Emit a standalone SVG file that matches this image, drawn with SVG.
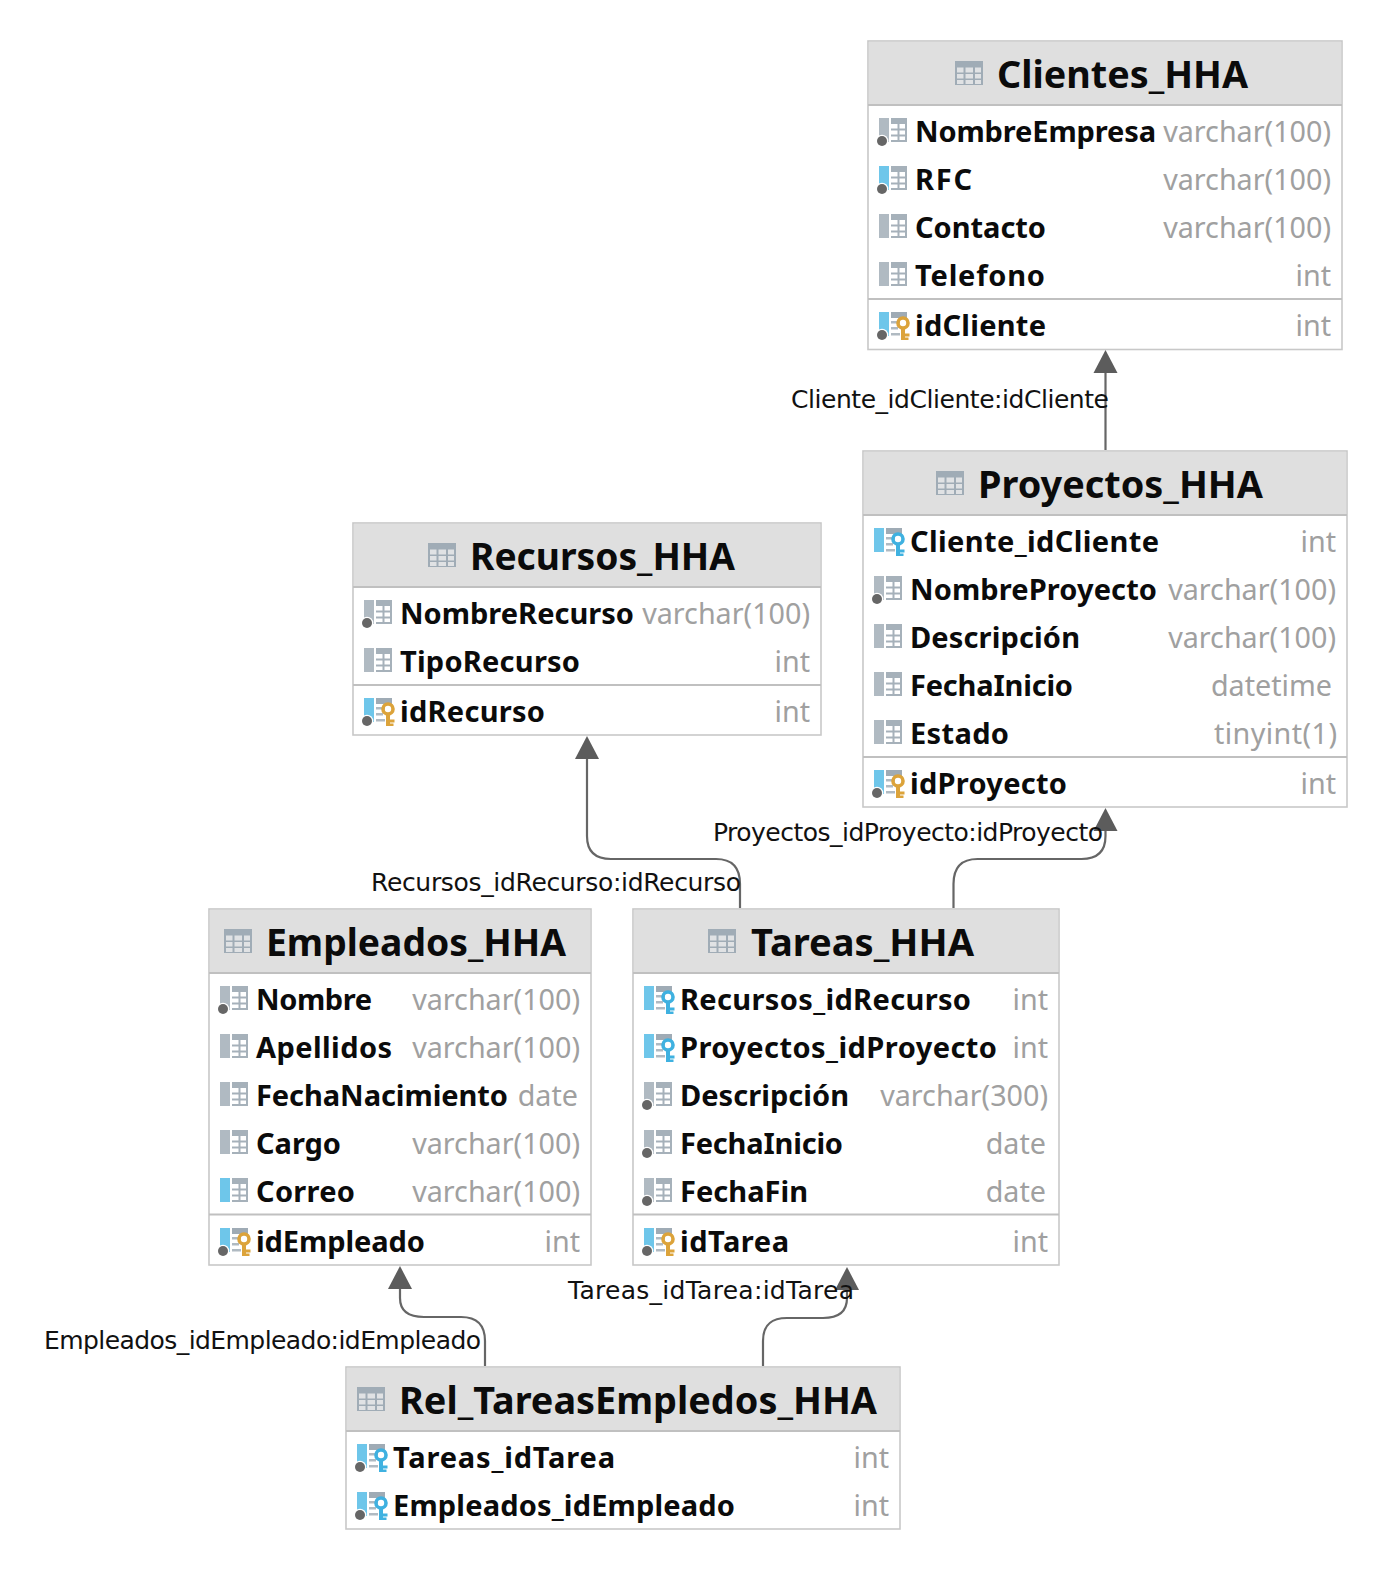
<svg xmlns="http://www.w3.org/2000/svg" width="1388" height="1570" viewBox="0 0 1388 1570">
<style>
.box{fill:#fff;stroke:#c8c8c8;stroke-width:1.6}
.hd{fill:#dfdfdf}
.sep{stroke:#c0c0c0;stroke-width:2.2;fill:none}
.t{font-family:"Noto Sans","Open Sans",sans-serif;font-weight:700;font-size:37px;fill:#0b0b0b}
.f{font-family:"Noto Sans","Open Sans",sans-serif;font-weight:700;font-size:29px;fill:#0b0b0b}
.y{font-family:"Noto Sans","Open Sans",sans-serif;font-weight:400;font-size:28.7px;fill:#a0a0a0;text-anchor:end}
.c{fill:none;stroke:#666;stroke-width:2.2}
.a{fill:#5c5c5c}
.l{font-family:"DejaVu Sans",sans-serif;font-size:25px;fill:#111}
</style>
<defs>
<g id="tbl"><rect x="0" y="0" width="28" height="24" fill="#a0acb6"/><path d="M2 6.500h6.500v5H2zM10.500 6.500h7.500v5h-7.500zM20 6.500h6v5h-6zM2 13h6.500v4.500H2zM10.500 13h7.500v4.500h-7.500zM20 13h6v4.500h-6zM2 19h6.500v4H2zM10.500 19h7.500v4h-7.500zM20 19h6v4h-6z" fill="#e0e2e4"/></g>
<g id="grid"><rect x="12" y="0" width="16" height="24" fill="#a6b1ba"/><path d="M12 6h6.500v4.500h-6.500zM20.500 6h5.500v4.500h-5.500zM12 12.500h6.500v4h-6.500zM20.500 12.500h5.500v4h-5.500zM12 18.500h6.500v3.500h-6.500zM20.500 18.500h5.500v3.500h-5.500z" fill="#fff"/></g>
<g id="lines"><path d="M12 0h16v6h-16z" fill="#9fabb5"/><path d="M12 9h9v2.500h-9zM12 15h7v2.500h-7zM12 21h9v2.500h-9z" fill="#b0bac2"/></g>
<g id="dot"><circle cx="3" cy="23" r="6.300" fill="#fff"/><circle cx="3" cy="23" r="5" fill="#666"/></g>
<g id="gbar"><rect width="10" height="24" fill="#b0bac2"/></g>
<g id="bbar"><rect width="10" height="24" fill="#6ec6ea"/></g>
<g id="key"><circle cx="24" cy="11" r="5" fill="none" stroke="currentColor" stroke-width="3.600"/><path d="M22 16h4v12h-4zM26 21.500h4.500v3h-4.500zM26 25.500h3.500v2.500h-3.500z" fill="currentColor"/></g>
<g id="i-plain"><use href="#gbar"/><use href="#grid"/></g>
<g id="i-nn"><use href="#gbar"/><use href="#grid"/><use href="#dot"/></g>
<g id="i-uq"><use href="#bbar"/><use href="#grid"/><use href="#dot"/></g>
<g id="i-u"><use href="#bbar"/><use href="#grid"/></g>
<g id="i-pk" color="#dca33a"><use href="#bbar"/><use href="#lines"/><use href="#dot"/><use href="#key"/></g>
<g id="i-fk" color="#3fb1e0"><use href="#bbar"/><use href="#lines"/><use href="#key"/></g>
<g id="i-fkd" color="#3fb1e0"><use href="#bbar"/><use href="#lines"/><use href="#dot"/><use href="#key"/></g>
</defs>
<rect width="1388" height="1570" fill="#fff"/>

<g id="Clientes_HHA">
<rect class="box" x="868" y="41" width="474" height="308.500"/><rect class="hd" x="869" y="42" width="472" height="62"/><path class="sep" d="M868 105H1342M868 299H1342"/>
<use href="#tbl" x="955" y="61"/><text class="t" x="997" y="88" textLength="251" lengthAdjust="spacingAndGlyphs">Clientes_HHA</text>
<use href="#i-nn" x="879" y="118"/><text class="f" x="915" y="142" textLength="241">NombreEmpresa</text><text class="y" x="1331" y="142">varchar(100)</text>
<use href="#i-uq" x="879" y="166"/><text class="f" x="915" y="190" textLength="57">RFC</text><text class="y" x="1331" y="190">varchar(100)</text>
<use href="#i-plain" x="879" y="214"/><text class="f" x="915" y="238" textLength="131">Contacto</text><text class="y" x="1331" y="238">varchar(100)</text>
<use href="#i-plain" x="879" y="262"/><text class="f" x="915" y="286" textLength="130">Telefono</text><text class="y" x="1331" y="286">int</text>
<use href="#i-pk" x="879" y="312"/><text class="f" x="915" y="336" textLength="131">idCliente</text><text class="y" x="1331" y="336">int</text>
</g>

<g id="Proyectos_HHA">
<rect class="box" x="863" y="451" width="484" height="356"/><rect class="hd" x="864" y="452" width="482" height="62"/><path class="sep" d="M863 515H1347M863 757H1347"/>
<use href="#tbl" x="936" y="471"/><text class="t" x="978" y="498" textLength="285" lengthAdjust="spacingAndGlyphs">Proyectos_HHA</text>
<use href="#i-fk" x="874" y="528"/><text class="f" x="910" y="552" textLength="249">Cliente_idCliente</text><text class="y" x="1336" y="552">int</text>
<use href="#i-nn" x="874" y="576"/><text class="f" x="910" y="600" textLength="247">NombreProyecto</text><text class="y" x="1336" y="600">varchar(100)</text>
<use href="#i-plain" x="874" y="624"/><text class="f" x="910" y="648" textLength="170">Descripción</text><text class="y" x="1336" y="648">varchar(100)</text>
<use href="#i-plain" x="874" y="672"/><text class="f" x="910" y="696" textLength="163">FechaInicio</text><text class="y" x="1332" y="696">datetime</text>
<use href="#i-plain" x="874" y="720"/><text class="f" x="910" y="744" textLength="99">Estado</text><text class="y" x="1337" y="744" textLength="123">tinyint(1)</text>
<use href="#i-pk" x="874" y="770"/><text class="f" x="910" y="794" textLength="157">idProyecto</text><text class="y" x="1336" y="794">int</text>
</g>

<g id="Recursos_HHA">
<rect class="box" x="353" y="523" width="468" height="212"/><rect class="hd" x="354" y="524" width="466" height="62"/><path class="sep" d="M353 587H821M353 685H821"/>
<use href="#tbl" x="428" y="543"/><text class="t" x="470" y="570" textLength="265" lengthAdjust="spacingAndGlyphs">Recursos_HHA</text>
<use href="#i-nn" x="364" y="600"/><text class="f" x="400" y="624" textLength="234">NombreRecurso</text><text class="y" x="810" y="624">varchar(100)</text>
<use href="#i-plain" x="364" y="648"/><text class="f" x="400" y="672" textLength="180">TipoRecurso</text><text class="y" x="810" y="672">int</text>
<use href="#i-pk" x="364" y="698"/><text class="f" x="400" y="722" textLength="145">idRecurso</text><text class="y" x="810" y="722">int</text>
</g>

<g id="Empleados_HHA">
<rect class="box" x="209" y="909" width="382" height="356"/><rect class="hd" x="210" y="910" width="380" height="62"/><path class="sep" d="M209 973H591M209 1214.500H591"/>
<use href="#tbl" x="224" y="929"/><text class="t" x="266" y="956" textLength="300" lengthAdjust="spacingAndGlyphs">Empleados_HHA</text>
<use href="#i-nn" x="220" y="986"/><text class="f" x="256" y="1010" textLength="116">Nombre</text><text class="y" x="580" y="1010">varchar(100)</text>
<use href="#i-plain" x="220" y="1034"/><text class="f" x="256" y="1058" textLength="136">Apellidos</text><text class="y" x="580" y="1058">varchar(100)</text>
<use href="#i-plain" x="220" y="1082"/><text class="f" x="256" y="1106" textLength="252">FechaNacimiento</text><text class="y" x="578" y="1106">date</text>
<use href="#i-plain" x="220" y="1130"/><text class="f" x="256" y="1154" textLength="85">Cargo</text><text class="y" x="580" y="1154">varchar(100)</text>
<use href="#i-u" x="220" y="1178"/><text class="f" x="256" y="1202" textLength="99">Correo</text><text class="y" x="580" y="1202">varchar(100)</text>
<use href="#i-pk" x="220" y="1228"/><text class="f" x="256" y="1252" textLength="169">idEmpleado</text><text class="y" x="580" y="1252">int</text>
</g>

<g id="Tareas_HHA">
<rect class="box" x="633" y="909" width="426" height="356"/><rect class="hd" x="634" y="910" width="424" height="62"/><path class="sep" d="M633 973H1059M633 1214.500H1059"/>
<use href="#tbl" x="708" y="929"/><text class="t" x="751" y="956" textLength="223" lengthAdjust="spacingAndGlyphs">Tareas_HHA</text>
<use href="#i-fk" x="644" y="986"/><text class="f" x="680" y="1010" textLength="291">Recursos_idRecurso</text><text class="y" x="1048" y="1010">int</text>
<use href="#i-fk" x="644" y="1034"/><text class="f" x="680" y="1058" textLength="317">Proyectos_idProyecto</text><text class="y" x="1048" y="1058">int</text>
<use href="#i-nn" x="644" y="1082"/><text class="f" x="680" y="1106" textLength="169">Descripción</text><text class="y" x="1048" y="1106">varchar(300)</text>
<use href="#i-nn" x="644" y="1130"/><text class="f" x="680" y="1154" textLength="163">FechaInicio</text><text class="y" x="1046" y="1154">date</text>
<use href="#i-nn" x="644" y="1178"/><text class="f" x="680" y="1202" textLength="128">FechaFin</text><text class="y" x="1046" y="1202">date</text>
<use href="#i-pk" x="644" y="1228"/><text class="f" x="680" y="1252" textLength="109">idTarea</text><text class="y" x="1048" y="1252">int</text>
</g>

<g id="Rel_TareasEmpledos_HHA">
<rect class="box" x="346" y="1367" width="554" height="162"/><rect class="hd" x="347" y="1368" width="552" height="62"/><path class="sep" d="M346 1431H900"/>
<use href="#tbl" x="357" y="1387"/><text class="t" x="399" y="1414" textLength="478" lengthAdjust="spacingAndGlyphs">Rel_TareasEmpledos_HHA</text>
<use href="#i-fkd" x="357" y="1444"/><text class="f" x="393" y="1468" textLength="222">Tareas_idTarea</text><text class="y" x="889" y="1468">int</text>
<use href="#i-fkd" x="357" y="1492"/><text class="f" x="393" y="1516" textLength="342">Empleados_idEmpleado</text><text class="y" x="889" y="1516">int</text>
</g>

<g id="connectors">
<path class="c" d="M1105.500 450V370"/><path class="a" d="M1105.500 350L1117.500 373H1093.500Z"/>
<path class="c" d="M740 908V884C740 866 731 859 716 859H611C596 859 587 852 587 836V755"/><path class="a" d="M587 736L599 759H575Z"/>
<path class="c" d="M953.500 908V884C953.500 866 962.500 859 977.500 859H1081.500C1096.500 859 1105.500 852 1105.500 836V825"/><path class="a" d="M1105.500 808L1117.500 831H1093.500Z"/>
<path class="c" d="M485 1366V1341C485 1324 476 1317 461 1317H424C409 1317 400 1312 400 1298V1285"/><path class="a" d="M400 1266L412 1289H388Z"/>
<path class="c" d="M763 1366V1341C763 1324 772 1318 787 1318H823C838 1318 847 1312 847 1298V1285"/><path class="a" d="M847 1267L859 1290H835Z"/>
<text class="l" x="791" y="408" textLength="318">Cliente_idCliente:idCliente</text>
<text class="l" x="713" y="841" textLength="390">Proyectos_idProyecto:idProyecto</text>
<text class="l" x="371" y="891" textLength="370">Recursos_idRecurso:idRecurso</text>
<text class="l" x="568" y="1299" textLength="286">Tareas_idTarea:idTarea</text>
<text class="l" x="44" y="1349" textLength="437">Empleados_idEmpleado:idEmpleado</text>
</g>
</svg>
